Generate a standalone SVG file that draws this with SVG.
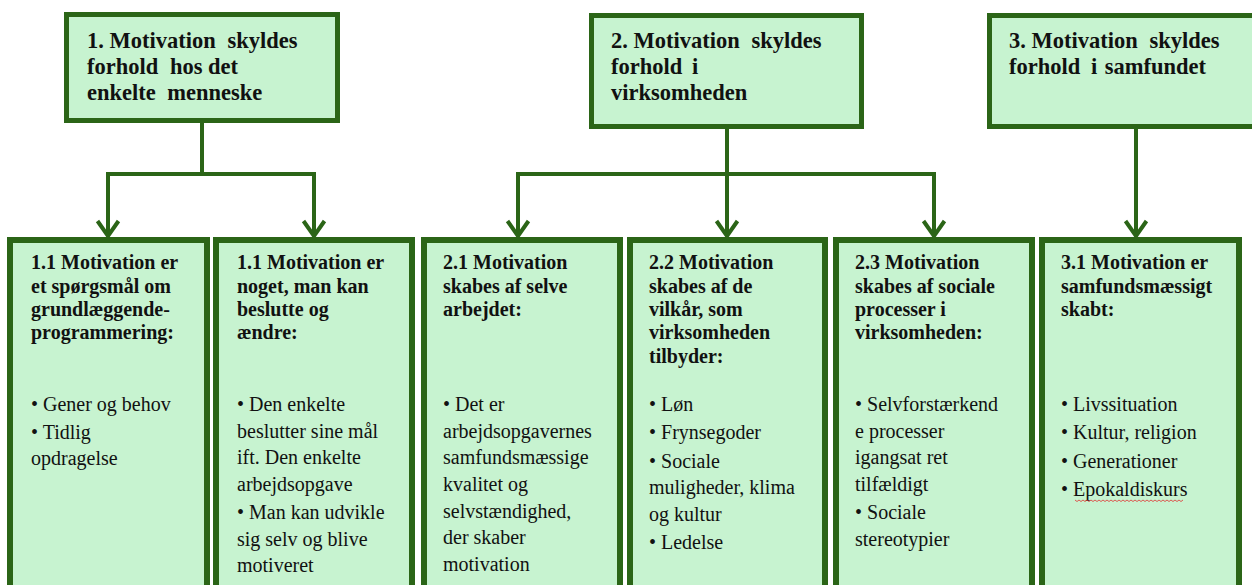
<svg xmlns="http://www.w3.org/2000/svg" width="1252" height="585" viewBox="0 0 1252 585">
  <style>
    .box { fill: #c7f3d0; stroke: #2b6517; }
    .top { stroke-width: 5; }
    .sub { stroke-width: 6; }
    .conn { fill: none; stroke: #2b6517; stroke-width: 4; }
    .h1 { font-family: "Liberation Serif", "Times New Roman", serif; font-weight: bold; font-size: 22.5px; fill: #111111; }
    .h2 { font-family: "Liberation Serif", "Times New Roman", serif; font-weight: bold; font-size: 20px; fill: #111111; }
    .body { font-family: "Liberation Serif", "Times New Roman", serif; font-size: 20px; fill: #111111; }
    .squiggle { fill: none; stroke: #e03030; stroke-width: 0.8; }
  </style>
  <defs>
    <marker id="chev" markerUnits="userSpaceOnUse" markerWidth="30" markerHeight="30" viewBox="0 0 30 30" refX="15" refY="15" orient="auto-start-reverse" overflow="visible">
      <path d="M0,4.5 L15,15 L0,25.5" fill="none" stroke="#2b6517" stroke-width="4"/>
    </marker>
  </defs>

  <rect width="1252" height="585" fill="#ffffff"/>

  <!-- connectors -->
  <g id="connectors">
    <path class="conn" d="M202,122 V174"/>
    <path class="conn" d="M108,236 V174 H314 V236" marker-start="url(#chev)" marker-end="url(#chev)"/>
    <path class="conn" d="M518,236 V174 H934 V236" marker-start="url(#chev)" marker-end="url(#chev)"/>
    <path class="conn" d="M727,128 V236" marker-end="url(#chev)"/>
    <path class="conn" d="M1136,128 V236" marker-end="url(#chev)"/>
  </g>

  <!-- top level causes (justified lines: wider gaps set with dx) -->
  <g id="cause-1">
    <rect class="box top" x="66.5" y="14.5" width="271" height="106"/>
    <text class="h1" x="87" y="48">1. Motivation<tspan dx="6"> skyldes</tspan></text>
    <text class="h1" x="87" y="74">forhold<tspan dx="6"> hos det</tspan></text>
    <text class="h1" x="87" y="100">enkelte<tspan dx="6"> menneske</tspan></text>
  </g>
  <g id="cause-2">
    <rect class="box top" x="591.5" y="15.5" width="270" height="111"/>
    <text class="h1" x="611" y="48">2. Motivation<tspan dx="6"> skyldes</tspan></text>
    <text class="h1" x="611" y="74">forhold<tspan dx="4"> i</tspan></text>
    <text class="h1" x="611" y="100">virksomheden</text>
  </g>
  <g id="cause-3">
    <rect class="box top" x="989.5" y="15.5" width="290" height="111"/>
    <text class="h1" x="1009" y="48">3. Motivation<tspan dx="6"> skyldes</tspan></text>
    <text class="h1" x="1009" y="74">forhold<tspan dx="5"> i</tspan><tspan dx="2"> samfundet</tspan></text>
  </g>

  <!-- sub causes -->
  <g id="sub-1-1a">
    <rect class="box sub" x="10" y="240" width="197" height="400"/>
    <text class="h2" x="31" y="269.3">1.1 Motivation er</text>
    <text class="h2" x="31" y="292.7">et spørgsmål om</text>
    <text class="h2" x="31" y="316">grundlæggende-</text>
    <text class="h2" x="31" y="339.3">programmering:</text>
    <text class="body" x="31" y="411">• Gener og behov</text>
    <text class="body" x="31" y="439">• Tidlig</text>
    <text class="body" x="31" y="465">opdragelse</text>
  </g>
  <g id="sub-1-1b">
    <rect class="box sub" x="216" y="240" width="196" height="400"/>
    <text class="h2" x="237" y="269.3">1.1 Motivation er</text>
    <text class="h2" x="237" y="292.7">noget, man kan</text>
    <text class="h2" x="237" y="316">beslutte og</text>
    <text class="h2" x="237" y="339.3">ændre:</text>
    <text class="body" x="237" y="411">• Den enkelte</text>
    <text class="body" x="237" y="438">beslutter sine mål</text>
    <text class="body" x="237" y="464">ift. Den enkelte</text>
    <text class="body" x="237" y="491">arbejdsopgave</text>
    <text class="body" x="237" y="519">• Man kan udvikle</text>
    <text class="body" x="237" y="546">sig selv og blive</text>
    <text class="body" x="237" y="572">motiveret</text>
  </g>
  <g id="sub-2-1">
    <rect class="box sub" x="424" y="240" width="196" height="400"/>
    <text class="h2" x="443" y="269.3">2.1 Motivation</text>
    <text class="h2" x="443" y="292.7">skabes af selve</text>
    <text class="h2" x="443" y="316">arbejdet:</text>
    <text class="body" x="443" y="411">• Det er</text>
    <text class="body" x="443" y="438">arbejdsopgavernes</text>
    <text class="body" x="443" y="464">samfundsmæssige</text>
    <text class="body" x="443" y="491">kvalitet og</text>
    <text class="body" x="443" y="518">selvstændighed,</text>
    <text class="body" x="443" y="544">der skaber</text>
    <text class="body" x="443" y="571">motivation</text>
  </g>
  <g id="sub-2-2">
    <rect class="box sub" x="630" y="240" width="195" height="400"/>
    <text class="h2" x="649" y="269.3">2.2 Motivation</text>
    <text class="h2" x="649" y="292.7">skabes af de</text>
    <text class="h2" x="649" y="316">vilkår, som</text>
    <text class="h2" x="649" y="339.3">virksomheden</text>
    <text class="h2" x="649" y="362.7">tilbyder:</text>
    <text class="body" x="649" y="411">• Løn</text>
    <text class="body" x="649" y="439">• Frynsegoder</text>
    <text class="body" x="649" y="468">• Sociale</text>
    <text class="body" x="649" y="494">muligheder, klima</text>
    <text class="body" x="649" y="521">og kultur</text>
    <text class="body" x="649" y="549">• Ledelse</text>
  </g>
  <g id="sub-2-3">
    <rect class="box sub" x="836" y="240" width="196" height="400"/>
    <text class="h2" x="855" y="269.3">2.3 Motivation</text>
    <text class="h2" x="855" y="292.7">skabes af sociale</text>
    <text class="h2" x="855" y="316">processer i</text>
    <text class="h2" x="855" y="339.3">virksomheden:</text>
    <text class="body" x="855" y="411">• Selvforstærkend</text>
    <text class="body" x="855" y="438">e processer</text>
    <text class="body" x="855" y="464">igangsat ret</text>
    <text class="body" x="855" y="491">tilfældigt</text>
    <text class="body" x="855" y="519">• Sociale</text>
    <text class="body" x="855" y="546">stereotypier</text>
  </g>
  <g id="sub-3-1">
    <rect class="box sub" x="1042" y="240" width="197" height="400"/>
    <text class="h2" x="1061" y="269.3">3.1 Motivation er</text>
    <text class="h2" x="1061" y="292.7">samfundsmæssigt</text>
    <text class="h2" x="1061" y="316">skabt:</text>
    <text class="body" x="1061" y="411">• Livssituation</text>
    <text class="body" x="1061" y="439">• Kultur, religion</text>
    <text class="body" x="1061" y="468">• Generationer</text>
    <text class="body" x="1061" y="496">• Epokaldiskurs</text>
    <!-- spell-check underline -->
    <path class="squiggle" d="M1075,500 l2,1.5 l2,-1.5 l2,1.5 l2,-1.5 l2,1.5 l2,-1.5 l2,1.5 l2,-1.5 l2,1.5 l2,-1.5 l2,1.5 l2,-1.5 l2,1.5 l2,-1.5 l2,1.5 l2,-1.5 l2,1.5 l2,-1.5 l2,1.5 l2,-1.5 l2,1.5 l2,-1.5 l2,1.5 l2,-1.5 l2,1.5 l2,-1.5 l2,1.5 l2,-1.5 l2,1.5 l2,-1.5 l2,1.5 l2,-1.5 l2,1.5 l2,-1.5 l2,1.5 l2,-1.5 l2,1.5 l2,-1.5 l2,1.5 l2,-1.5 l2,1.5 l2,-1.5 l2,1.5 l2,-1.5 l2,1.5 l2,-1.5 l2,1.5 l2,-1.5 l2,1.5 l2,-1.5 l2,1.5 l2,-1.5 l2,1.5 l2,-1.5"/>
  </g>
</svg>
